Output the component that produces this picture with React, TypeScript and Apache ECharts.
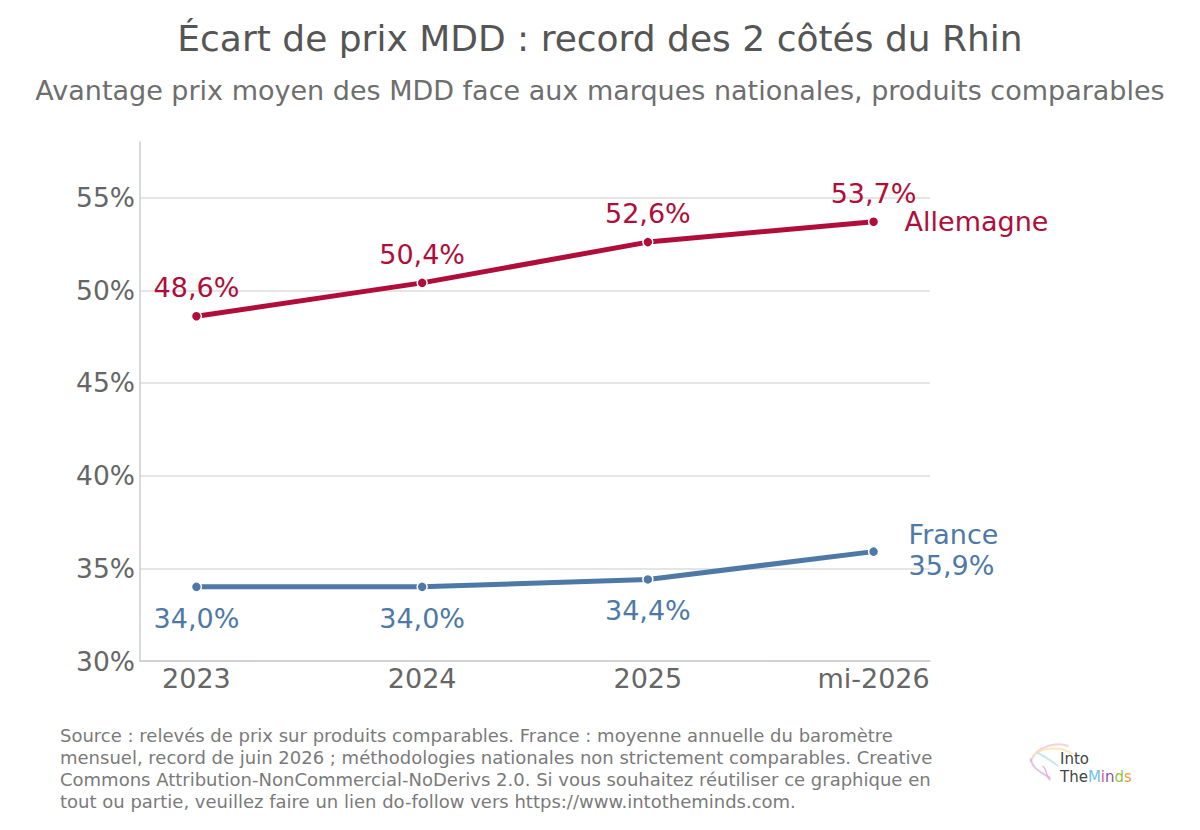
import React, { useEffect, useRef } from "react";
import * as echarts from "echarts";

const categories = ["2023", "2024", "2025", "mi-2026"];
const allemagne = [48.6, 50.4, 52.6, 53.7];
const france = [34.0, 34.0, 34.4, 35.9];
const yTicks = [30, 35, 40, 45, 50, 55];

const RED = "#b00d3a";
const BLUE = "#4e79a7";
const FONT = "DejaVu Sans";

const fmt = (v: number) => v.toFixed(1).replace(".", ",") + "%";

export default function App() {
  const ref = useRef<HTMLDivElement>(null);
  useEffect(() => {
    if (!ref.current) return;
    const chart = echarts.init(ref.current, null, { renderer: "svg" });
    const sourceLines = [
      "Source : relevés de prix sur produits comparables. France : moyenne annuelle du baromètre",
      "mensuel, record de juin 2026 ; méthodologies nationales non strictement comparables. Creative",
      "Commons Attribution-NonCommercial-NoDerivs 2.0. Si vous souhaitez réutiliser ce graphique en",
      "tout ou partie, veuillez faire un lien do-follow vers https://www.intotheminds.com.",
    ];
    chart.setOption({
      animation: false,
      backgroundColor: "#ffffff",
      textStyle: { fontFamily: FONT },
      grid: { left: 140, right: 270, top: 142, bottom: 169 },
      xAxis: {
        type: "value",
        min: -0.25,
        max: 3.25,
        axisLine: { show: true, onZero: false, lineStyle: { color: "#cccccc", width: 1.5 } },
        axisTick: { show: false },
        splitLine: { show: false },
        axisLabel: {
          customValues: [0, 1, 2, 3],
          formatter: (v: number) => categories[Math.round(v)] ?? "",
          color: "#666666",
          fontSize: 27,
          fontFamily: FONT,
          margin: 4,
        },
      },
      yAxis: {
        type: "value",
        min: 30,
        max: 58,
        interval: 5,
        axisLine: { show: true, onZero: false, lineStyle: { color: "#cccccc", width: 1.5 } },
        axisTick: { show: false },
        splitLine: { show: true, showMaxLine: false, lineStyle: { color: "#dddddd", width: 1.5 } },
        axisLabel: {
          showMaxLabel: false,
          formatter: (v: number) => (yTicks.includes(v) ? v + "%" : ""),
          color: "#666666",
          fontSize: 26.5,
          fontFamily: FONT,
          margin: 5,
        },
      },
      series: [
        {
          name: "Allemagne",
          type: "line",
          data: allemagne.map((v, i) => [i, v]),
          lineStyle: { color: RED, width: 5 },
          itemStyle: { color: RED, borderColor: "#ffffff", borderWidth: 1.5 },
          symbol: "circle",
          symbolSize: 10,
          label: {
            show: true,
            position: "top",
            distance: 9,
            color: RED,
            fontSize: 27,
            fontFamily: FONT,
            formatter: (p: any) => fmt(p.value[1]),
          },
          endLabel: {
            show: true,
            formatter: "{a}",
            color: RED,
            fontSize: 27,
            fontFamily: FONT,
            distance: 31,
          },
        },
        {
          name: "France",
          type: "line",
          data: france.map((v, i) => ({
            value: [i, v],
            label: { show: i < france.length - 1 },
          })),
          lineStyle: { color: BLUE, width: 5 },
          itemStyle: { color: BLUE, borderColor: "#ffffff", borderWidth: 1.5 },
          symbol: "circle",
          symbolSize: 10,
          label: {
            show: true,
            position: "bottom",
            distance: 12,
            color: BLUE,
            fontSize: 27,
            fontFamily: FONT,
            formatter: (p: any) => fmt(p.value[1]),
          },
          endLabel: {
            show: true,
            formatter: (p: any) => "France\n" + fmt(p.value[1]),
            color: BLUE,
            fontSize: 27,
            lineHeight: 31,
            fontFamily: FONT,
            distance: 35,
            offset: [0, -2],
          },
        },
      ],
      graphic: [
        {
          type: "text",
          left: "center",
          top: 20,
          style: {
            text: "Écart de prix MDD : record des 2 côtés du Rhin",
            fontSize: 36,
            fontFamily: FONT,
            fill: "#555555",
          },
        },
        {
          type: "text",
          left: "center",
          top: 77,
          style: {
            text: "Avantage prix moyen des MDD face aux marques nationales, produits comparables",
            fontSize: 27,
            fontFamily: FONT,
            fill: "#6e6e6e",
          },
        },
        {
          type: "text",
          left: 60,
          top: 724,
          style: {
            text: sourceLines.join("\n"),
            fontSize: 18,
            lineHeight: 22,
            fontFamily: FONT,
            fill: "#7a7a7a",
          },
        },
        {
          type: "group",
          left: 1028,
          top: 742,
          children: [
            { type: "bezierCurve", shape: { x1: 2, y1: 20, x2: 40, y2: 4, cpx1: 8, cpy1: 2, cpx2: 30, cpy2: 0 }, style: { stroke: "#f3c6d8", lineWidth: 2, fill: null, opacity: 0.8 } },
            { type: "bezierCurve", shape: { x1: 4, y1: 14, x2: 44, y2: 12, cpx1: 14, cpy1: 4, cpx2: 34, cpy2: 4 }, style: { stroke: "#fde3a0", lineWidth: 2, fill: null, opacity: 0.8 } },
            { type: "bezierCurve", shape: { x1: 2, y1: 16, x2: 22, y2: 36, cpx1: 4, cpy1: 28, cpx2: 14, cpy2: 30 }, style: { stroke: "#d7b5e0", lineWidth: 2, fill: null, opacity: 0.8 } },
            { type: "bezierCurve", shape: { x1: 8, y1: 10, x2: 30, y2: 24, cpx1: 16, cpy1: 14, cpx2: 22, cpy2: 18 }, style: { stroke: "#bfe0f0", lineWidth: 2, fill: null, opacity: 0.8 } },
            { type: "bezierCurve", shape: { x1: 14, y1: 24, x2: 22, y2: 38, cpx1: 20, cpy1: 28, cpx2: 16, cpy2: 34 }, style: { stroke: "#e6a9c4", lineWidth: 1.5, fill: null, opacity: 0.8 } },
          ],
        },
        {
          type: "text",
          left: 1060,
          top: 751,
          style: { text: "Into", fontSize: 15, fontFamily: FONT, fill: "#444444" },
        },
        {
          type: "text",
          left: 1060,
          top: 769,
          style: {
            text: "{a|The}{m|M}{i|i}{n|n}{d|d}{s|s}",
            fontSize: 15,
            fontFamily: FONT,
            rich: {
              a: { fill: "#444444", fontSize: 15, fontFamily: FONT },
              m: { fill: "#6fc3e6", fontSize: 15, fontFamily: FONT },
              i: { fill: "#e0529a", fontSize: 15, fontFamily: FONT },
              n: { fill: "#8a4fa8", fontSize: 15, fontFamily: FONT },
              d: { fill: "#8cc63f", fontSize: 15, fontFamily: FONT },
              s: { fill: "#f39c3c", fontSize: 15, fontFamily: FONT },
            },
          },
        },
      ],
    });
    return () => chart.dispose();
  }, []);
  return (
    <div
      ref={ref}
      style={{ position: "absolute", left: 0, top: 0, width: 1200, height: 830 }}
    />
  );
}
